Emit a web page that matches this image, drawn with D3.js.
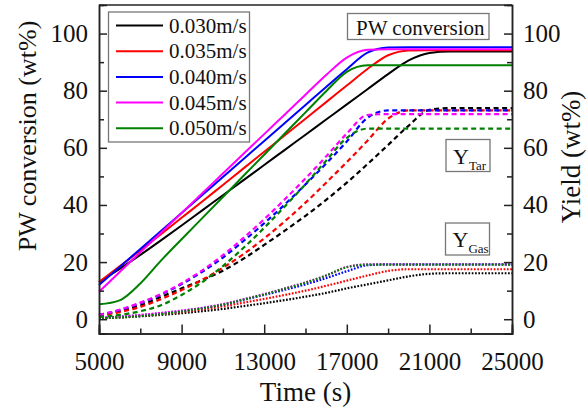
<!DOCTYPE html>
<html>
<head>
<meta charset="utf-8">
<script src="https://cdn.jsdelivr.net/npm/d3@7"></script>
<style>
  html, body { margin: 0; padding: 0; background: #fff; }
  svg { display: block; }
  text { font-family: "Liberation Serif", "Times New Roman", serif; fill: #111; }
</style>
</head>
<body>
<svg id="chart" width="588" height="410"></svg>
<script>
// Time axis samples (s)
const times = [5000, 6000, 7000, 8000, 9000, 10000, 11000, 12000, 13000, 14000, 15000,
               16000, 17000, 18000, 19000, 20000, 21000, 22000, 23000, 24000, 25000];

// Superficial gas velocities
const velocities = ["0.030m/s", "0.035m/s", "0.040m/s", "0.045m/s", "0.050m/s"];
const colors = ["#000000", "#ff0000", "#0000ff", "#ff00ff", "#008000"];

// PW conversion (wt%)
const convV030 = [13, 17.6, 22.5, 27.6, 32.8, 38.1, 43.4, 48.7, 54, 59.3, 64.6, 69.9, 75.2, 80.5, 85.8, 90.6, 93.2, 93.7, 93.7, 93.7, 93.7];
const convV035 = [13, 18.5, 24.1, 29.8, 35.5, 41.2, 47, 52.8, 58.6, 64.4, 70.2, 76, 81.8, 87.6, 92.4, 94.1, 94.2, 94.2, 94.2, 94.2, 94.2];
const convV040 = [12, 18.3, 24.6, 30.9, 37.2, 43.5, 49.8, 56.1, 62.4, 68.7, 75, 81.3, 87.5, 93.3, 95.1, 95.2, 95.2, 95.2, 95.2, 95.2, 95.2];
const convV045 = [9.6, 16.5, 23.4, 30.3, 37.2, 44.1, 51, 57.9, 64.8, 71.7, 78.6, 85.5, 91.6, 94.3, 94.5, 94.5, 94.5, 94.5, 94.5, 94.5, 94.5];
const convV050 = [5.2, 6.6, 12.5, 20.5, 28, 35.4, 42.8, 50.2, 57.6, 65, 72.4, 79.8, 86.6, 88.9, 88.9, 88.9, 88.9, 88.9, 88.9, 88.9, 88.9];

// Tar yield (wt%)
const tarV030 = [1.5, 2.8, 4.8, 7.8, 10.8, 13.7, 17, 21.2, 26, 31, 36.2, 41.8, 47.8, 54.3, 61, 67.8, 73.3, 73.9, 73.9, 73.9, 73.9];
const tarV035 = [1.2, 2.5, 4.3, 7, 10.2, 13.8, 18, 22.8, 28.3, 34.3, 40.8, 47.8, 55, 62.5, 70.2, 73.1, 73.1, 73.1, 73.1, 73.1, 73.1];
const tarV040 = [1.5, 3.2, 5.6, 8.6, 12.3, 16.6, 21.6, 27.4, 33.6, 40.2, 47.2, 54.5, 62.2, 70.5, 73.1, 73.1, 73.1, 73.1, 73.1, 73.1, 73.1];
const tarV045 = [1.5, 3.3, 5.8, 8.8, 12.6, 17.1, 22.4, 28.5, 35, 42, 49.3, 57, 65, 71.5, 71.8, 71.8, 71.8, 71.8, 71.8, 71.8, 71.8];
const tarV050 = [0.8, 1.5, 2.8, 4.9, 8.5, 13, 18.6, 25, 32, 39.5, 47.3, 55.5, 63.5, 66.7, 66.7, 66.7, 66.7, 66.7, 66.7, 66.7, 66.7];

// Gas yield (wt%)
const gasV030 = [0.3, 0.6, 1, 1.5, 2.1, 2.8, 3.6, 4.6, 5.6, 6.7, 7.9, 9.2, 10.8, 12.2, 13.6, 15, 15.9, 16.1, 16.1, 16.1, 16.1];
const gasV035 = [0.3, 0.7, 1.2, 1.8, 2.5, 3.4, 4.5, 5.8, 7.1, 8.5, 10, 11.7, 13.5, 15.3, 16.9, 17.5, 17.5, 17.5, 17.5, 17.5, 17.5];
const gasV040 = [0.5, 0.9, 1.4, 2.1, 2.9, 3.9, 5.1, 6.8, 8.5, 10.3, 12.2, 14.4, 16.8, 18.9, 19.2, 19.2, 19.2, 19.2, 19.2, 19.2, 19.2];
const gasV045 = [0.5, 0.9, 1.5, 2.2, 3, 4, 5.3, 7, 8.8, 10.8, 12.9, 15.3, 18.3, 19.2, 19.2, 19.2, 19.2, 19.2, 19.2, 19.2, 19.2];
const gasV050 = [0.3, 0.6, 1.1, 1.8, 2.7, 3.8, 5.1, 6.9, 8.7, 10.7, 12.8, 15.3, 18.2, 19.1, 19.1, 19.1, 19.1, 19.1, 19.1, 19.1, 19.1];

// Axis ticks
const xMajor = [5000, 9000, 13000, 17000, 21000, 25000];
const xMinor = [7000, 11000, 15000, 19000, 23000];
const yMajor = [0, 20, 40, 60, 80, 100];
const yMinor = [10, 30, 50, 70, 90];

const convSeries = [convV030, convV035, convV040, convV045, convV050];
const tarSeries = [tarV030, tarV035, tarV040, tarV045, tarV050];
const gasSeries = [gasV030, gasV035, gasV040, gasV045, gasV050];

const svg = d3.select("#chart");
const L = 99, R = 512, T = 5, B = 333.5;

const x = d3.scaleLinear().domain([5000, 25000]).range([L, R]);
const y = d3.scaleLinear().domain([-5, 110]).range([B, T]);

const line = d3.line()
  .x((d, i) => x(times[i]))
  .y(d => y(d))
  .curve(d3.curveMonotoneX);

// Curves: gas (dotted), tar (dashed), conversion (solid)
const curves = svg.append("g");
gasSeries.forEach((s, i) => {
  curves.append("path").attr("d", line(s)).attr("fill", "none")
    .attr("stroke", colors[i]).attr("stroke-width", 2.2)
    .attr("stroke-dasharray", "1.7,1.6");
});
tarSeries.forEach((s, i) => {
  curves.append("path").attr("d", line(s)).attr("fill", "none")
    .attr("stroke", colors[i]).attr("stroke-width", 2.2)
    .attr("stroke-dasharray", "5,3.5");
});
convSeries.forEach((s, i) => {
  curves.append("path").attr("d", line(s)).attr("fill", "none")
    .attr("stroke", colors[i]).attr("stroke-width", 2);
});

// Axes with inward ticks
function styleAxis(g) {
  g.select(".domain").attr("stroke", "#222").attr("stroke-width", 1.5);
  g.selectAll(".tick line").attr("stroke", "#222").attr("stroke-width", 1.5);
  g.selectAll(".tick text").style("font-family", '"Liberation Serif", serif')
    .style("font-size", "25px").attr("fill", "#111");
}

const xAxis = svg.append("g").attr("transform", `translate(0,${B})`)
  .call(d3.axisBottom(x).tickValues(xMajor).tickSize(-9).tickPadding(19).tickFormat(d3.format("d")));
styleAxis(xAxis);
const xAxisMinor = svg.append("g").attr("transform", `translate(0,${B})`)
  .call(d3.axisBottom(x).tickValues(xMinor).tickSize(-5).tickFormat(""));
styleAxis(xAxisMinor);

const yAxis = svg.append("g").attr("transform", `translate(${L},0)`)
  .call(d3.axisLeft(y).tickValues(yMajor).tickSize(-8).tickPadding(11));
styleAxis(yAxis);
const yAxisMinor = svg.append("g").attr("transform", `translate(${L},0)`)
  .call(d3.axisLeft(y).tickValues(yMinor).tickSize(-5).tickFormat(""));
styleAxis(yAxisMinor);

const yAxisR = svg.append("g").attr("transform", `translate(${R},0)`)
  .call(d3.axisRight(y).tickValues(yMajor).tickSize(-8).tickPadding(11));
styleAxis(yAxisR);
const yAxisRMinor = svg.append("g").attr("transform", `translate(${R},0)`)
  .call(d3.axisRight(y).tickValues(yMinor).tickSize(-5).tickFormat(""));
styleAxis(yAxisRMinor);

// Top frame line
svg.append("line").attr("x1", L).attr("x2", R).attr("y1", T).attr("y2", T)
  .attr("stroke", "#222").attr("stroke-width", 1.5);

// Axis titles
svg.append("text").attr("x", (L + R) / 2).attr("y", 401)
  .attr("text-anchor", "middle").style("font-size", "27px").text("Time (s)");
svg.append("text").attr("transform", "translate(36,136) rotate(-90)")
  .attr("text-anchor", "middle").style("font-size", "26px").text("PW conversion (wt%)");
svg.append("text").attr("transform", "translate(580,157) rotate(-90)")
  .attr("text-anchor", "middle").style("font-size", "27px").text("Yield (wt%)");

// Legend
const legend = svg.append("g");
legend.append("rect").attr("x", 108.5).attr("y", 12).attr("width", 141).attr("height", 130)
  .attr("fill", "#fff").attr("stroke", "#777").attr("stroke-width", 1.3);
velocities.forEach((v, i) => {
  const cy = 25.5 + i * 25.7;
  legend.append("line").attr("x1", 116).attr("x2", 163).attr("y1", cy).attr("y2", cy)
    .attr("stroke", colors[i]).attr("stroke-width", 2);
  legend.append("text").attr("x", 169).attr("y", cy + 7).style("font-size", "21px").text(v);
});

// Group labels
const boxes = svg.append("g");
boxes.append("rect").attr("x", 347.5).attr("y", 13.5).attr("width", 141.5).attr("height", 26)
  .attr("fill", "#fff").attr("stroke", "#777").attr("stroke-width", 1.3);
boxes.append("text").attr("x", 356).attr("y", 35).style("font-size", "21px").text("PW conversion");

function subLabel(bx, by, sub) {
  boxes.append("rect").attr("x", bx).attr("y", by).attr("width", 44).attr("height", 32)
    .attr("fill", "#fff").attr("stroke", "#777").attr("stroke-width", 1.3);
  const t = boxes.append("text").attr("x", bx + 7).attr("y", by + 24).style("font-size", "22px");
  t.append("tspan").text("Y");
  t.append("tspan").attr("dy", 6).style("font-size", "13px").text(sub);
}
subLabel(446, 139.5, "Tar");
subLabel(445.5, 223, "Gas");
</script>
</body>
</html>
